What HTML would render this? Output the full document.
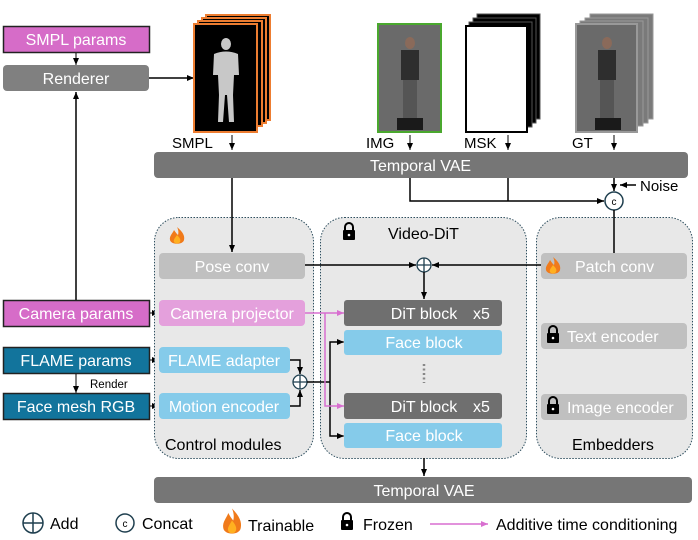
<!DOCTYPE html>
<html><head><meta charset="utf-8"><style>
html,body{margin:0;padding:0;background:#fff}
svg{display:block;font-family:"Liberation Sans",sans-serif}
</style></head><body>
<svg width="698" height="540" viewBox="0 0 698 540" xmlns="http://www.w3.org/2000/svg">
<defs>
<marker id="a" markerWidth="8" markerHeight="8" refX="7" refY="4" orient="auto" markerUnits="userSpaceOnUse"><path d="M0,1 L7,4 L0,7z" fill="#000"/></marker>
<marker id="p" markerWidth="8" markerHeight="8" refX="7" refY="4" orient="auto" markerUnits="userSpaceOnUse"><path d="M0,1 L7,4 L0,7z" fill="#d86fd0"/></marker>
<g id="fire"><path d="M0,-9 C6,-4 8,0 7,4 C6,9 -6,9 -7,4 C-8,0 -4,-3 -3,-6 C-1,-3 0,-2 1,-1 C2,-4 1,-7 0,-9z" fill="#f07a1a"/><path d="M0,-1 C3,2 4,4 3,6 C2,8 -2,8 -3,6 C-4,4 -2,2 0,-1z" fill="#ffb020"/></g>
<g id="lock"><path d="M-4,-2 V-5 A4,4 0 0 1 4,-5 V-2" fill="none" stroke="#000" stroke-width="2"/><rect x="-6" y="-2" width="12" height="10" rx="1" fill="#000"/><circle cx="0" cy="3" r="1.3" fill="#fff"/></g>
</defs>
<g font-size="16">
<!-- left inputs -->
<rect x="3.5" y="26.5" width="146" height="26" fill="#d66cc8" stroke="#222" stroke-width="1.5"/>
<text x="76" y="45" fill="#fff" text-anchor="middle">SMPL params</text>
<line x1="76" y1="53" x2="76" y2="65" stroke="#000" marker-end="url(#a)"/>
<rect x="3" y="65" width="146" height="26" rx="4" fill="#808080"/>
<text x="76" y="84" fill="#fff" text-anchor="middle">Renderer</text>
<line x1="149" y1="78" x2="194" y2="78" stroke="#000" stroke-width="1.5" marker-end="url(#a)"/>
<line x1="76" y1="300" x2="76" y2="92" stroke="#000" stroke-width="1.5" marker-end="url(#a)"/>

<rect x="3.5" y="300.5" width="146" height="26" fill="#d66cc8" stroke="#222" stroke-width="1.5"/>
<text x="76" y="319" fill="#fff" text-anchor="middle">Camera params</text>
<rect x="3.5" y="347.5" width="146" height="26" fill="#12749c" stroke="#222" stroke-width="1.5"/>
<text x="76" y="366" fill="#fff" text-anchor="middle">FLAME params</text>
<line x1="76" y1="374" x2="76" y2="393" stroke="#000" marker-end="url(#a)"/>
<text x="90" y="388" font-size="11.5" fill="#000">Render</text>
<rect x="3.5" y="393.5" width="146" height="26" fill="#12749c" stroke="#222" stroke-width="1.5"/>
<text x="76" y="412" fill="#fff" text-anchor="middle">Face mesh RGB</text>
<line x1="150" y1="313" x2="159" y2="313" stroke="#000" marker-end="url(#a)"/>
<line x1="150" y1="360" x2="159" y2="360" stroke="#000" marker-end="url(#a)"/>
<line x1="150" y1="406" x2="159" y2="406" stroke="#000" marker-end="url(#a)"/>

<!-- SMPL stack -->
<rect x="206" y="15" width="64" height="105" fill="#000" stroke="#ed7d31" stroke-width="2"/>
<rect x="202" y="18" width="64" height="105" fill="#000" stroke="#ed7d31" stroke-width="2"/>
<rect x="198" y="21" width="64" height="105" fill="#000" stroke="#ed7d31" stroke-width="2"/>
<rect x="194" y="24" width="63" height="108" fill="#000" stroke="#ed7d31" stroke-width="2"/>
<g fill="#c8c8c8"><ellipse cx="226" cy="44" rx="5" ry="6"/><path d="M214,54 Q226,49 238,54 L239,75 L234,75 L233,95 L234,122 L229,122 L227,95 L225,95 L223,122 L218,122 L219,95 L218,75 L213,75z"/></g>
<text x="172" y="148" font-size="15">SMPL</text>
<line x1="232" y1="135" x2="232" y2="150" stroke="#000" marker-end="url(#a)"/>

<!-- IMG -->
<rect x="378" y="24" width="63" height="108" fill="#6a6a6a" stroke="#4aa82e" stroke-width="2"/>
<g fill="#2e2e2e"><ellipse cx="410" cy="43" rx="5" ry="6" fill="#8a6a5a"/><rect x="401" y="50" width="18" height="30"/><rect x="403" y="80" width="14" height="38" fill="#555"/><rect x="397" y="118" width="26" height="12" fill="#1a1a1a"/></g>
<text x="366" y="148" font-size="15">IMG</text>
<line x1="410" y1="135" x2="410" y2="150" stroke="#000" marker-end="url(#a)"/>

<!-- MSK -->
<rect x="477" y="14" width="63" height="105" fill="#000" stroke="#555"/>
<rect x="473" y="18" width="63" height="105" fill="#000" stroke="#555"/>
<rect x="469" y="22" width="63" height="105" fill="#000" stroke="#555"/>
<rect x="466" y="26" width="61" height="106" fill="#fff" stroke="#000" stroke-width="2"/>
<text x="464" y="148" font-size="15">MSK</text>
<line x1="508" y1="135" x2="508" y2="150" stroke="#000" marker-end="url(#a)"/>

<!-- GT -->
<rect x="590" y="14" width="63" height="105" fill="#7a7a7a" stroke="#999"/>
<rect x="585" y="18" width="63" height="105" fill="#7a7a7a" stroke="#999"/>
<rect x="580" y="21" width="63" height="105" fill="#7a7a7a" stroke="#999"/>
<rect x="576" y="24" width="61" height="108" fill="#6a6a6a" stroke="#999" stroke-width="2"/>
<g fill="#2e2e2e"><ellipse cx="607" cy="43" rx="5" ry="6" fill="#8a6a5a"/><rect x="598" y="50" width="18" height="30"/><rect x="600" y="80" width="14" height="38" fill="#555"/><rect x="595" y="118" width="26" height="12" fill="#1a1a1a"/></g>
<text x="572" y="148" font-size="15">GT</text>
<line x1="614" y1="135" x2="614" y2="150" stroke="#000" marker-end="url(#a)"/>

<!-- Temporal VAE top -->
<rect x="154" y="152" width="534" height="26" rx="4" fill="#767676"/>
<text x="370" y="171" fill="#fff">Temporal VAE</text>

<!-- containers -->
<rect x="154.5" y="217.5" width="159" height="241" rx="24" fill="#e8e8e8" stroke="#2f4f5f" stroke-dasharray="1.5,1.5"/>
<rect x="320.5" y="217.5" width="206" height="241" rx="24" fill="#e8e8e8" stroke="#2f4f5f" stroke-dasharray="1.5,1.5"/>
<rect x="536.5" y="217.5" width="156" height="241" rx="24" fill="#e8e8e8" stroke="#2f4f5f" stroke-dasharray="1.5,1.5"/>

<!-- lines from VAE -->
<line x1="232" y1="178" x2="232" y2="252" stroke="#000" stroke-width="1.5" marker-end="url(#a)"/>
<polyline points="410,178 410,201 604,201" fill="none" stroke="#000" stroke-width="1.5" marker-end="url(#a)"/>
<line x1="508" y1="178" x2="508" y2="201" stroke="#000" stroke-width="1.5"/>
<line x1="614" y1="178" x2="614" y2="191" stroke="#000" stroke-width="1.5" marker-end="url(#a)"/>
<line x1="636" y1="185" x2="620" y2="185" stroke="#000" stroke-width="1.5" marker-end="url(#a)"/>
<text x="640" y="191" font-size="15">Noise</text>
<circle cx="614" cy="201" r="9" fill="#fff" stroke="#1f3f4f" stroke-width="1.5"/>
<text x="614" y="205" font-size="10" text-anchor="middle">c</text>
<line x1="614" y1="210" x2="614" y2="253" stroke="#000" stroke-width="1.5"/>

<!-- control modules -->
<use href="#fire" x="177" y="236"/>
<rect x="159" y="253" width="146" height="26" rx="4" fill="#c0c0c0"/>
<text x="232" y="272" fill="#fff" text-anchor="middle">Pose conv</text>
<rect x="159" y="300" width="146" height="26" rx="4" fill="#e4a0dc"/>
<text x="232" y="319" fill="#fff" text-anchor="middle">Camera projector</text>
<rect x="159" y="347" width="131" height="26" rx="4" fill="#85cbea"/>
<text x="224" y="366" fill="#fff" text-anchor="middle">FLAME adapter</text>
<rect x="159" y="393" width="131" height="26" rx="4" fill="#85cbea"/>
<text x="224" y="412" fill="#fff" text-anchor="middle">Motion encoder</text>
<text x="165" y="450">Control modules</text>

<!-- video dit -->
<use href="#lock" x="349" y="232"/>
<text x="388" y="239">Video-DiT</text>
<line x1="305" y1="265" x2="416" y2="265" stroke="#000" stroke-width="1.5" marker-end="url(#a)"/>
<line x1="543" y1="265" x2="432" y2="265" stroke="#000" stroke-width="1.5" marker-end="url(#a)"/>
<circle cx="424" cy="265" r="7" fill="#fff" stroke="#1f3f4f" stroke-width="1.3"/>
<path d="M417,265 H431 M424,258 V272" stroke="#1f3f4f" stroke-width="1.3"/>
<line x1="424" y1="272" x2="424" y2="299" stroke="#000" stroke-width="1.5" marker-end="url(#a)"/>

<rect x="344" y="300" width="158" height="26" rx="3" fill="#6f6f6f"/>
<text x="424" y="319" fill="#fff" text-anchor="middle">DiT block</text>
<text x="473" y="319" fill="#fff">x5</text>
<rect x="344" y="330" width="158" height="25" rx="3" fill="#85cbea"/>
<text x="424" y="348" fill="#fff" text-anchor="middle">Face block</text>
<line x1="424" y1="364" x2="424" y2="383" stroke="#888" stroke-width="2.5" stroke-dasharray="2,2.5"/>
<rect x="344" y="393" width="158" height="26" rx="3" fill="#6f6f6f"/>
<text x="424" y="412" fill="#fff" text-anchor="middle">DiT block</text>
<text x="473" y="412" fill="#fff">x5</text>
<rect x="344" y="423" width="158" height="25" rx="3" fill="#85cbea"/>
<text x="424" y="441" fill="#fff" text-anchor="middle">Face block</text>

<!-- add flame/motion -->
<polyline points="290,360 300,360 300,374" fill="none" stroke="#000" stroke-width="1.5" marker-end="url(#a)"/>
<polyline points="290,406 300,406 300,390" fill="none" stroke="#000" stroke-width="1.5" marker-end="url(#a)"/>
<circle cx="300" cy="382" r="7" fill="#fff" stroke="#1f3f4f" stroke-width="1.3"/>
<path d="M293,382 H307 M300,375 V389" stroke="#1f3f4f" stroke-width="1.3"/>
<line x1="307" y1="382" x2="330" y2="382" stroke="#000" stroke-width="1.5"/>
<polyline points="343,342 330,342 330,436 343,436" fill="none" stroke="#000" stroke-width="1.5"/>
<line x1="336" y1="342" x2="344" y2="342" stroke="#000" marker-end="url(#a)"/>
<line x1="336" y1="436" x2="344" y2="436" stroke="#000" marker-end="url(#a)"/>

<!-- pink -->
<line x1="305" y1="313" x2="344" y2="313" stroke="#d86fd0" stroke-width="1.5" marker-end="url(#p)"/>
<polyline points="325,313 325,406 344,406" fill="none" stroke="#d86fd0" stroke-width="1.5" marker-end="url(#p)"/>

<!-- embedders -->
<rect x="541" y="253" width="146" height="26" rx="4" fill="#c0c0c0"/>
<use href="#fire" x="553" y="266"/>
<text x="575" y="272" fill="#fff">Patch conv</text>
<rect x="541" y="323" width="146" height="26" rx="4" fill="#c0c0c0"/>
<use href="#lock" x="553" y="335"/>
<text x="567" y="342" fill="#fff">Text encoder</text>
<rect x="541" y="394" width="146" height="26" rx="4" fill="#c0c0c0"/>
<use href="#lock" x="553" y="406"/>
<text x="567" y="413" fill="#fff">Image encoder</text>
<text x="572" y="450">Embedders</text>

<!-- bottom VAE -->
<line x1="424" y1="458" x2="424" y2="476" stroke="#000" stroke-width="1.5" marker-end="url(#a)"/>
<rect x="154" y="477" width="538" height="26" rx="4" fill="#767676"/>
<text x="424" y="496" fill="#fff" text-anchor="middle">Temporal VAE</text>

<!-- legend -->
<circle cx="33" cy="523" r="10" fill="#fff" stroke="#1f3f4f" stroke-width="1.5"/>
<path d="M23,523 H43 M33,513 V533" stroke="#1f3f4f" stroke-width="1.5"/>
<text x="50" y="529">Add</text>
<circle cx="125" cy="523" r="9" fill="#fff" stroke="#1f3f4f" stroke-width="1.5"/>
<text x="125" y="527" font-size="10" text-anchor="middle">c</text>
<text x="142" y="529">Concat</text>
<use href="#fire" x="232" y="522" transform="translate(-58,-261) scale(1.25 1.5)"/>
<text x="248" y="531">Trainable</text>
<use href="#lock" x="347" y="522"/>
<text x="363" y="530">Frozen</text>
<line x1="430" y1="524" x2="488" y2="524" stroke="#d86fd0" stroke-width="1.5" marker-end="url(#p)"/>
<text x="496" y="530">Additive time conditioning</text>
</g>
</svg>
</body></html>
